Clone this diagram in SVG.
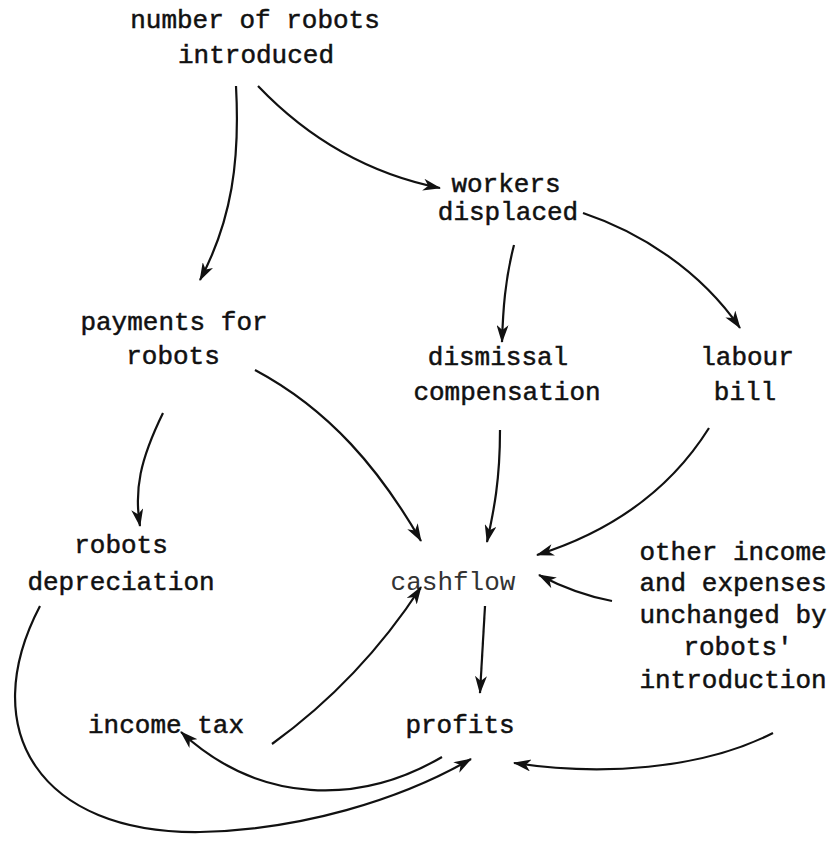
<svg xmlns="http://www.w3.org/2000/svg" width="830" height="844" viewBox="0 0 830 844">
<defs>
<style>
text{font-family:"Liberation Mono","DejaVu Sans Mono",monospace;font-size:26px;fill:#111;stroke:#111;stroke-width:0.5;text-anchor:middle}
.c path{fill:none;stroke:#111;stroke-width:2.2;marker-end:url(#ah)}
</style>
<marker id="ah" viewBox="0 0 18 12" refX="17" refY="6" markerWidth="18" markerHeight="12" markerUnits="userSpaceOnUse" orient="auto">
<path d="M0,0 L18,6 L0,12 L5,6 z" fill="#111"/>
</marker>
</defs>
<rect width="830" height="844" fill="#fff"/>
<g id="n_robots_introduced"><text x="255" y="28">number of robots</text><text x="256" y="63">introduced</text></g>
<g id="n_workers"><text x="506" y="192">workers</text><text x="508" y="220">displaced</text></g>
<g id="n_payments"><text x="174" y="330">payments for</text><text x="173" y="364">robots</text></g>
<g id="n_dismissal"><text x="498" y="365">dismissal</text><text x="507" y="400">compensation</text></g>
<g id="n_labour"><text x="747" y="365">labour</text><text x="745" y="400">bill</text></g>
<g id="n_depreciation"><text x="121" y="553">robots</text><text x="121" y="590">depreciation</text></g>
<g id="n_cashflow"><text x="453" y="590" style="fill:#333;stroke:none">cashflow</text></g>
<g id="n_other"><text x="733" y="560">other income</text><text x="733" y="591">and expenses</text><text x="733" y="623">unchanged by</text><text x="738" y="655">robots'</text><text x="733" y="688">introduction</text></g>
<g id="n_incometax"><text x="166" y="733">income tax</text></g>
<g id="n_profits"><text x="460" y="733">profits</text></g>
<g id="connectors" class="c">
<path d="M258,86 C300,130 360,172 440,188"/>
<path d="M236,86 C240,160 232,220 200,280"/>
<path d="M583,213 C640,232 700,270 740,328"/>
<path d="M514,245 C505,280 503,310 502,342"/>
<path d="M163,413 C140,460 134,490 140,526"/>
<path d="M255,370 C330,410 380,470 421,541"/>
<path d="M500,430 C500,480 494,510 487,542"/>
<path d="M709,428 C670,490 610,532 537,555"/>
<path d="M612,601 C585,596 560,586 539,575"/>
<path d="M485,606 L480,693"/>
<path d="M272,744 C330,702 380,650 421,587"/>
<path d="M442,757 C360,805 260,805 181,732"/>
<path d="M773,733 C700,770 600,776 514,763"/>
<path d="M40,606 C-25,730 40,834 200,832 C300,830 400,800 471,759"/>
</g>
</svg>
